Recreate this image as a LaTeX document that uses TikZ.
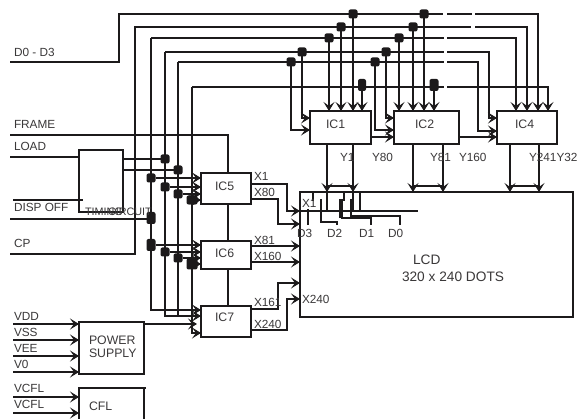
\documentclass[tikz,border=0pt]{standalone}
\usepackage{fontspec}
\setmainfont{Liberation Sans}
\usetikzlibrary{arrows.meta}
\definecolor{ink}{HTML}{1C1A1B}
\definecolor{txt}{HTML}{3A3839}
\tikzset{
  wire/.style={line width=2.5pt,draw=ink,line cap=butt,line join=miter},
  arr/.style={wire,-{Stealth[length=9pt,width=11pt,inset=4pt]}},
  box/.style={draw=ink,line width=2.9pt,anchor=north west,inner sep=0pt,outer sep=0pt},
  jn/.style={fill=ink,draw=none,rounded corners=2pt,minimum size=9pt,inner sep=0pt,outer sep=0pt},
  lab/.style={text=txt,font=\fontsize{11.8}{12}\selectfont,anchor=base west,inner sep=0pt,outer sep=0pt},
  tim/.style={text=txt,font=\fontsize{10.8}{11}\selectfont,anchor=base west,inner sep=0pt,outer sep=0pt},
  big/.style={text=txt,font=\fontsize{12.3}{13}\selectfont,anchor=base west,inner sep=0pt,outer sep=0pt},
  lcdt/.style={text=txt,font=\fontsize{13.7}{14}\selectfont,anchor=base west,inner sep=0pt,outer sep=0pt}
}
\begin{document}
\begin{tikzpicture}[x=1pt,y=-1pt]
\useasboundingbox[fill=white] (0,0) rectangle (581,419);
% boxes
\node[box,minimum width=61pt,minimum height=33pt] (ic1) at (310,111) {};
\node[box,minimum width=65pt,minimum height=33pt] (ic2) at (394,111) {};
\node[box,minimum width=60pt,minimum height=33pt] (ic4) at (497,111) {};
\node[box,minimum width=50pt,minimum height=31pt] (ic5) at (201,173) {};
\node[box,minimum width=50pt,minimum height=28pt] (ic6) at (201,241) {};
\node[box,minimum width=50pt,minimum height=31pt] (ic7) at (201,306) {};
\node[box,minimum width=44pt,minimum height=62pt] (tim) at (79,150) {};
\node[box,minimum width=65pt,minimum height=52pt] (psu) at (79,322) {};
\node[box,minimum width=273pt,minimum height=125pt] (lcd) at (300,192) {};
% named points
\foreach \n/\x/\y in {
 d0/10/62,dc/119/62,c1/119/14,e1/443/14,f1/447/14,g1/472/14,h1/475/14,k1/538/14,
 cp/10/254,cc/135/254,c2/135/27,e2/471/27,f2/475/27,k2/527/27,
 c3/151/38,e3/444/38,f3/447/38,k3/516/38,
 c4/165/52,e4/444/52,f4/447/52,k4/489/52,
 c5/178/62,e5/444/62,f5/447/62,k5/478/62,
 c6/192/87,e6/444/87,f6/447/87,k6/548/87,
 fr/10/135,fc/228/135,lo/10/157,da/13/200,db/83/200,dd/10/219,
 p3/201/310,p4/201/316,p5/178/316,p6/201/333,ps/197/324,
 v1/13/324,v2/13/340,v3/13/356,v4/13/372,w1/13/397,w2/13/413,
 cfa/79/419,cfb/79/388,cfc/146/388,cfd/144/388,cfe/144/419,
 a1/310/130,a2/310/118,a3/394/130,a4/394/118,a5/497/131,a6/497/118,
 b1/371/137,b2/394/137,b3/459/137,b4/497/137}
 \coordinate (\n) at (\x,\y);
% buses
\draw[wire] (d0) -- (dc) -- (c1) -- (e1);
\draw[wire] (f1) -- (g1);
\draw[arr] (h1) -- (k1) -- (k1 |- ic4.north);
\draw[wire] (cp) -- (cc) -- (c2) -- (e2);
\draw[arr] (f2) -- (k2) -- (k2 |- ic4.north);
\draw[wire] (c3) -- (e3);
\draw[arr] (f3) -- (k3) -- (k3 |- ic4.north);
\draw[wire] (c4) -- (e4);
\draw[arr] (f4) -- (k4) |- (a6);
\draw[wire] (c5) -- (e5);
\draw[arr] (f5) -- (k5) |- (a5);
\draw[wire] (c6) -- (e6);
\draw[arr] (f6) -- (k6) -- (k6 |- ic4.north);
\draw[arr] (c3) |- (p3);
\draw[arr] (c4) |- (p4);
\draw[wire] (c5) -- (p5);
\draw[arr] (c6) |- (p6);
\draw[wire] (fr) -- (fc) -- (ic5.north -| fc);
\draw[wire] (ic5.south -| fc) -- (ic6.north -| fc);
\draw[wire] (ic6.south -| fc) -- (ic7.north -| fc);
\draw[wire] (lo) -- (lo -| tim.west);
\draw[wire] (da) -- (db);
\draw[wire] (dd) -- (dd -| c3);
% junctions on the data buses
\foreach \n/\x/\y in {
 j1/353/14,j2/341/27,j3/329/38,j4/302/52,j5/291/62,
 j7/424/14,j8/413/27,j9/399/38,j10/386/52,j11/375/62}
 \node[jn] (\n) at (\x,\y) {};
\node[jn,minimum height=12pt,minimum width=8pt] (j6) at (362,85) {};
\node[jn,minimum height=12pt] (j12) at (434,85) {};
\foreach \n in {j1,j2,j3,j6}
 \draw[arr] (\n) -- (\n |- ic1.north);
\foreach \n in {j7,j8,j9,j12}
 \draw[arr] (\n) -- (\n |- ic2.north);
\draw[arr] (j4) |- (a2);
\draw[arr] (j5) |- (a1);
\draw[arr] (j10) |- (a4);
\draw[arr] (j11) |- (a3);
\draw[arr] (b1) -- (b2);
\draw[arr] (b3) -- (b4);
% timing and driver inputs
\foreach \n/\x/\y in {
 t1/165/159,t2/178/170,m1/151/178,m2/165/187,m3/178/194,m4/192/200,
 n2/165/252,n3/178/258,n4/192/264}
 \node[jn] (\n) at (\x,\y) {};
\node[jn,minimum height=12pt] (m0) at (151,218) {};
\node[jn,minimum height=12pt] (n1) at (151,245) {};
\node[jn,minimum width=11pt] at (192,200) {};
\node[jn,minimum width=11pt,minimum height=11pt] at (192,264) {};
\draw[wire] (t1 -| tim.east) -- (t1);
\draw[wire] (t2 -| tim.east) -- (t2);
\foreach \n in {m1,m2,m3,m4}
 \draw[arr] (\n) -- (\n -| ic5.west);
\foreach \n in {n1,n2,n3,n4}
 \draw[arr] (\n) -- (\n -| ic6.west);
\draw[arr] (ps -| psu.east) -- (ps);
% X outputs
\foreach \n/\x/\y in {
 o1/251/184,q1/287/184,r1/300/211,
 o2/251/199,q2/278/199,r2/300/224,
 o3/251/246,r3/300/246,
 o4/251/262,r4/300/262,
 o5/251/309,q5/278/283,r5/300/283,
 o6/251/330,q6/287/299,r6/300/299}
 \coordinate (\n) at (\x,\y);
\draw[arr] (o1) -| (q1) |- (r1);
\draw[arr] (o2) -| (q2) |- (r2);
\draw[arr] (o3) -- (r3);
\draw[arr] (o4) -- (r4);
\draw[arr] (o5) -| (q5) -- (r5);
\draw[arr] (o6) -| (q6) -- (r6);
% Y outputs
\foreach \a/\b in {327/353,413/443,510/539}{
 \coordinate (ya) at (\a,144);
 \coordinate (yb) at (\b,144);
 \draw[arr] (ya) -- (ya |- lcd.north);
 \draw[arr] (yb) -- (yb |- lcd.north);
 \draw[line width=1.8pt,draw=ink] (\a,186) -- (\b,186);
}
% connector inside LCD
\foreach \n/\x/\y in {
 l1/300/211,l2/418/211,
 u1/313/192,u2/313/201,u3/360/192,u4/360/212,u5/344/192,u6/344/201,
 u7/327/192,u8/327/211,u9/353/192,u10/353/211,
 s3a/308/209,s3b/308/225,
 s2a/321/199,s2b/337/225,
 s1a/341/199,s1b/371/225,
 s0a/351/199,s0b/400/225}
 \coordinate (\n) at (\x,\y);
\draw[wire] (l1) -- (l2);
\draw[wire] (u1) -- (u2);
\draw[wire] (u3) -- (u4);
\draw[wire] (u5) -- (u6);
\draw[wire] (u7) -- (u8);
\draw[wire] (u9) -- (u10);
\draw[wire] (s3a) -- (s3b);
\draw[wire] (s2a) |- (337,222) -- (s2b);
\draw[line width=4pt,draw=ink] (s1a) -- (341,218);
\draw[wire] (341,218) -| (s1b);
\draw[wire] (s0a) |- (400,216) -- (s0b);
% supply inputs
\draw[arr] (v1) -- (v1 -| psu.west);
\draw[arr] (v2) -- (v2 -| psu.west);
\draw[arr] (v3) -- (v3 -| psu.west);
\draw[arr] (v4) -- (v4 -| psu.west);
\draw[wire,line width=2.9pt] (cfa) -- (cfb) -- (cfc);
\draw[wire,line width=2.9pt] (cfd) -- (cfe);
\draw[arr] (w1) -- (w1 -| cfb);
\draw[arr] (w2) -- (w2 -| cfb);
% labels
\foreach \x/\y/\t in {
 14/57/{D0 - D3},14/129/FRAME,14/151/LOAD,14/212/DISP OFF,14/248/CP,
 14/321/VDD,14/337/VSS,14/353/VEE,14/369/V0,14/393/VCFL,14/409/VCFL,
 254/181/X1,254/197/X80,254/245/X81,254/261/X160,254/307/X161,254/329/X240,
 302/208/X1,302/304/X240,
 340/162/Y1,372/162/Y80,430/162/Y81,459/162/Y160,529/162/Y241Y32,
 297/238/D3,327/238/D2,359/238/D1,388/238/D0}
 \node[lab] at (\x,\y) {\t};
\node[tim] at (85,216) {TIMING};
\node[tim] at (108,216) {CIRCUIT};
\node[big] (lic1) at (326,129) {IC1};
\node[big] (lic2) at (415,129) {IC2};
\node[big] (lic4) at (515,129) {IC4};
\node[big] (lic5) at (215,191) {IC5};
\node[big] (lic6) at (215,258) {IC6};
\node[big] (lic7) at (215,322) {IC7};
\node[big] (lp1) at (89,345) {POWER};
\node[big] (lp2) at (89,358) {SUPPLY};
\node[big] (lcf) at (89,410) {CFL};
\node[lcdt] (ll1) at (413,265) {LCD};
\node[lcdt] (ll2) at (402,282) {320 x 240 DOTS};
\end{tikzpicture}
\end{document}
